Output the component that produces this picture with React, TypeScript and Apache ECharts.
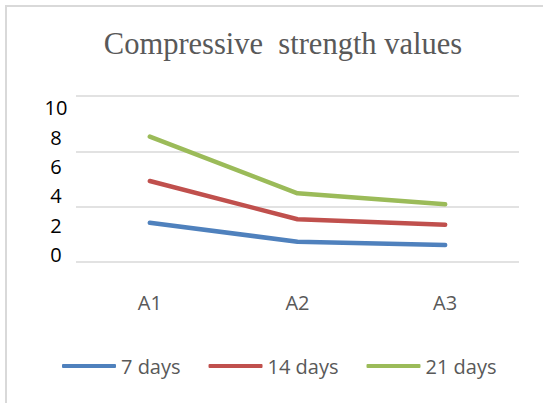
import React, { useEffect, useRef } from "react";
import * as echarts from "echarts";

const categories = ["A1", "A2", "A3"];
const days7 = [2.15, 0.86, 0.63];
const days14 = [5.0, 2.39, 2.02];
const days21 = [8.03, 4.16, 3.41];
const gridTicks = [0, 5, 10, 15];
const labelTicks = [0, 2, 4, 6, 8, 10];

export default function App() {
  const ref = useRef<HTMLDivElement>(null);
  useEffect(() => {
    if (!ref.current) return;
    const chart = echarts.init(ref.current, undefined, { renderer: "svg" });
    const font = "'Open Sans', sans-serif";
    const textColor = "#595959";
    chart.setOption({
      animation: false,
      backgroundColor: "#ffffff",
      title: {
        text: "Compressive  strength values",
        left: 278,
        textAlign: "center",
        top: 23,
        textStyle: {
          fontFamily: "'Liberation Serif', 'Times New Roman', serif",
          fontSize: 30.5,
          fontWeight: "normal",
          color: textColor,
        },
      },
      graphic: [
        {
          type: "rect",
          shape: { x: 6, y: 6, width: 600, height: 500 },
          style: { fill: "none", stroke: "#d9d9d9", lineWidth: 2 },
          silent: true,
        },
      ],
      legend: {
        left: 57,
        top: 351,
        itemWidth: 54,
        itemHeight: 4,
        itemGap: 28,
        icon: "roundRect",
        textStyle: { fontFamily: font, fontSize: 20, color: textColor },
        data: ["7 days", "14 days", "21 days"],
      },
      grid: [
        { left: 76, right: 24, top: 96, height: 166 },
        { left: 76, right: 24, top: 107.8, height: 146.5 },
      ],
      xAxis: [
        {
          gridIndex: 0,
          type: "category",
          data: categories,
          show: false,
        },
        {
          gridIndex: 1,
          type: "category",
          data: categories,
          boundaryGap: true,
          axisLine: { show: false },
          axisTick: { show: false },
          axisLabel: {
            margin: 38,
            fontFamily: font,
            fontSize: 20,
            color: textColor,
          },
        },
      ],
      yAxis: [
        {
          gridIndex: 0,
          type: "value",
          min: gridTicks[0],
          max: gridTicks[gridTicks.length - 1],
          interval: 5,
          axisLine: { show: false },
          axisTick: { show: false },
          axisLabel: { show: false },
          splitLine: { lineStyle: { color: "#d9d9d9", width: 1.5 } },
        },
        {
          gridIndex: 1,
          type: "value",
          min: labelTicks[0],
          max: labelTicks[labelTicks.length - 1],
          interval: 2,
          axisLine: { show: false },
          axisTick: { show: false },
          splitLine: { show: false },
          axisLabel: {
            align: "center",
            margin: 20,
            fontFamily: font,
            fontSize: 20,
            color: "#000000",
          },
        },
      ],
      series: [
        { name: "7 days", data: days7, color: "#4F81BD" },
        { name: "14 days", data: days14, color: "#C0504D" },
        { name: "21 days", data: days21, color: "#9BBB59" },
      ].map((s) => ({
        name: s.name,
        type: "line",
        xAxisIndex: 1,
        yAxisIndex: 1,
        data: s.data,
        showSymbol: false,
        symbol: "none",
        color: s.color,
        lineStyle: { width: 4.5, color: s.color, cap: "round", join: "round" },
        itemStyle: { color: s.color },
      })),
    });
    return () => chart.dispose();
  }, []);
  return (
    <div
      ref={ref}
      style={{ position: "fixed", left: 0, top: 0, width: 543, height: 403 }}
    />
  );
}
